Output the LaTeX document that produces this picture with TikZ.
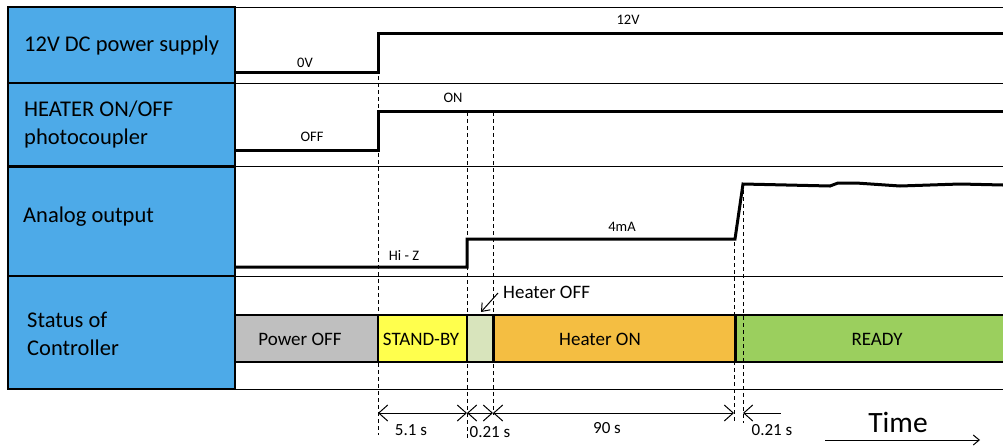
\documentclass[tikz,border=0pt]{standalone}
\usepackage{fontspec}
\setmainfont{Carlito}
\usetikzlibrary{arrows.meta}

\definecolor{labelblue}{RGB}{77,170,232}
\definecolor{offgray}{RGB}{191,191,191}
\definecolor{standbyyellow}{RGB}{255,255,77}
\definecolor{heateroffgreen}{RGB}{216,228,188}
\definecolor{heateronorange}{RGB}{244,190,66}
\definecolor{readygreen}{RGB}{155,207,94}

\begin{document}
\begin{tikzpicture}[x=1pt,y=-1pt,
    sig/.style={line width=3pt},
    grid/.style={line width=0.8pt},
    guide/.style={line width=0.8pt, dash pattern=on 4pt off 3pt},
    rowlabel/.style={anchor=west, align=left, inner sep=0pt, font=\fontsize{22.5}{28}\selectfont},
    small/.style={inner sep=0pt, font=\fontsize{14.5}{16}\selectfont},
    status/.style={inner sep=0pt, font=\fontsize{19}{22}\selectfont},
    dimlabel/.style={inner sep=0pt, font=\fontsize{17}{20}\selectfont},
    barb/.tip={Straight Barb[length=9pt,width=16pt]},
  ]
    \useasboundingbox (0,0) rectangle (1003,445);

    % Coluna de rotulos
    \foreach \ya/\yb in {7/83,83/166,166/276,276/389}
        \draw[fill=labelblue, line width=1.5pt] (8,\ya) rectangle (235,\yb);
    \draw[line width=3pt] (8,166) -- (235,166);

    \node[rowlabel] (lpower) at (24,45) {12V DC power supply};
    \node[rowlabel] (lheater) at (24,124) {HEATER ON/OFF\\photocoupler};
    \node[rowlabel] (lanalog) at (23,217) {Analog output};
    \node[rowlabel] (lstatus) at (27,334) {Status of\\Controller};

    % Linhas da grade
    \foreach \y in {7,83,166,276,389}
        \draw[grid] (235,\y) -- (1003,\y);

    % Barra de estados
    \draw[fill=offgray, line width=1.5pt] (235,315) rectangle (378,362);
    \draw[fill=standbyyellow, line width=1.5pt] (378,315) rectangle (467,362);
    \draw[fill=heateroffgreen, line width=1.5pt] (467,315) rectangle (493,362);
    \draw[fill=heateronorange, line width=1.5pt] (493,315) rectangle (735,362);
    \draw[fill=readygreen, line width=1.5pt] (735,315) rectangle (1010,362);
    \draw[line width=3pt] (493,315) -- (493,362);
    \draw[line width=3pt] (735,315) -- (735,362);

    \node[status] (spoweroff) at (300,339) {Power OFF};
    \node[status] (sstandby) at (421,339) {STAND-BY};
    \node[status] (sheateron) at (600,339) {Heater ON};
    \node[status] (sready) at (877,339) {READY};

    % Linhas tracejadas
    \draw[guide] (378,76) -- (378,435);
    \draw[guide] (467,112) -- (467,440);
    \draw[guide] (493,112) -- (493,415);
    \draw[guide] (734,242) -- (734,423);
    \draw[guide] (743,190) -- (743,423);

    % Sinais
    \draw[sig] (235,72) -- (378,72) -- (378,33) -- (1003,33);
    \draw[sig] (235,150) -- (378,150) -- (378,111) -- (1003,111);
    \draw[sig] (235,267) -- (467,267) -- (467,239) -- (735,239) -- (743,184)
        -- (830,186) -- (838,183) -- (856,183) -- (900,186) -- (960,184) -- (1003,185);

    \node[small] (v12) at (628,20) {12V};
    \node[small] (v0) at (305,63) {0V};
    \node[small] (hon) at (453,98) {ON};
    \node[small] (hoff) at (312,137) {OFF};
    \node[small] (ahiz) at (404,256) {Hi - Z};
    \node[small] (a4ma) at (622,227) {4mA};

    % Heater OFF
    \node[status, anchor=west] (heateroff) at (503,292) {Heater OFF};
    \coordinate (heateroffTip) at (481,312);
    \draw[line width=1pt, -{Straight Barb[length=7pt,width=11pt]}]
        ([xshift=-5pt,yshift=-1pt]heateroff.west) -- (heateroffTip);

    % Cotas
    \foreach \xa/\xb in {378/467,467/493,493/734}
        \draw[line width=1pt, barb-barb] (\xa,413) -- (\xb,413);
    \draw[line width=1pt, barb-] (743,413) -- (781,413);

    \node[dimlabel] (t51) at (411,430) {5.1 s};
    \node[dimlabel] (t021a) at (490,432) {0.21 s};
    \node[dimlabel] (t90) at (607,428) {90 s};
    \node[dimlabel] (t021b) at (772,430) {0.21 s};

    % Tempo
    \node[inner sep=0pt, font=\fontsize{29.5}{32}\selectfont] (time) at (898,422) {Time};
    \coordinate (timeStart) at (825,440);
    \coordinate (timeEnd) at (980,440);
    \draw[line width=1pt, -{Straight Barb[length=6pt,width=10pt]}] (timeStart) -- (timeEnd);
\end{tikzpicture}
\end{document}
